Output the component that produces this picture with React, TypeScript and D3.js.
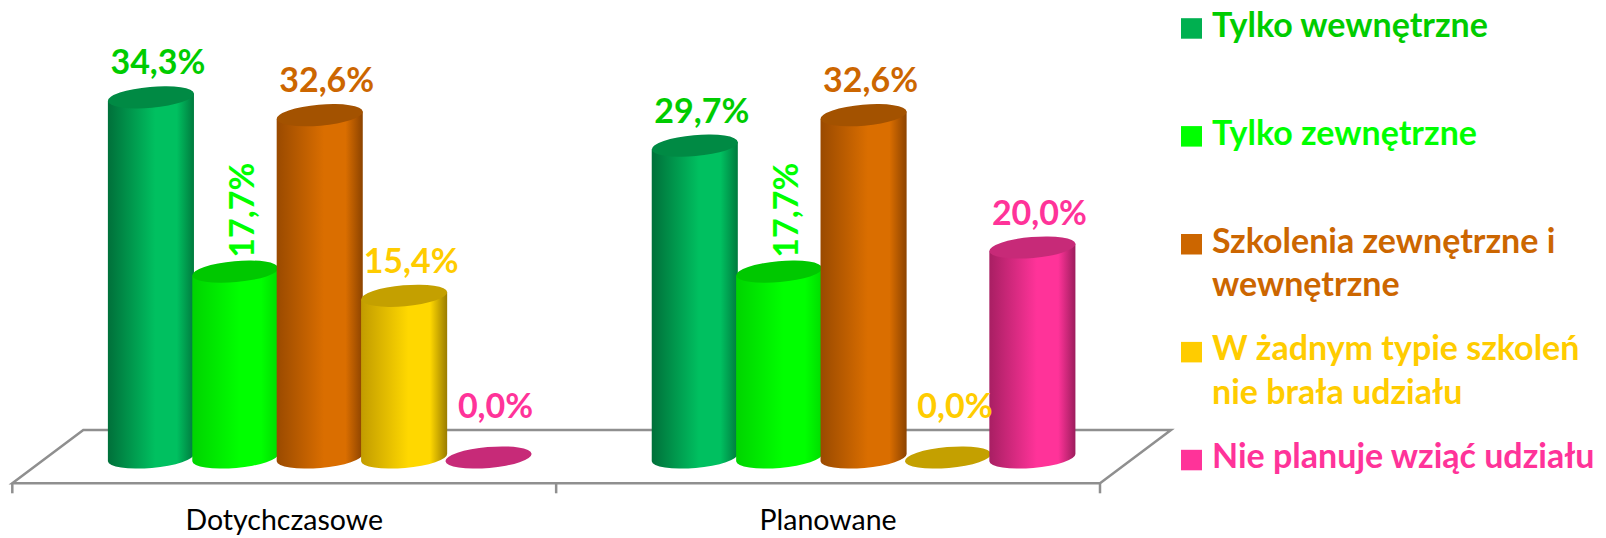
import React from "react";
import * as d3 from "d3";

const categories = ["Dotychczasowe", "Planowane"];
const seriesNames = [
  "Tylko wewnętrzne",
  "Tylko zewnętrzne",
  "Szkolenia zewnętrzne i wewnętrzne",
  "W żadnym typie szkoleń nie brała udziału",
  "Nie planuje wziąć udziału",
];
const valuesDotychczasowe = [34.3, 17.7, 32.6, 15.4, 0.0];
const valuesPlanowane = [29.7, 17.7, 32.6, 0.0, 20.0];
const legendLines = [
  ["Tylko wewnętrzne"],
  ["Tylko zewnętrzne"],
  ["Szkolenia zewnętrzne i", "wewnętrzne"],
  ["W żadnym typie szkoleń", "nie brała udziału"],
  ["Nie planuje wziąć udziału"],
];
const rotatedLabelSeries = [1];

const bodyEdgeL = ["#00703a", "#00d400", "#9a4a00", "#c29c00", "#a81f63"];
const bodyMid = ["#00c060", "#00ff00", "#da6e00", "#ffd800", "#ff3399"];
const bodyEdgeR = ["#007a3e", "#00dc00", "#8c4300", "#9a7c00", "#9c1d5c"];
const capColors = ["#008a44", "#00c800", "#a35200", "#c4a000", "#c72a78"];
const labelColors = ["#00cc00", "#00ff00", "#cc6600", "#ffcc00", "#ff3399"];
const markerColors = ["#00b050", "#00ff00", "#cc6600", "#ffcc00", "#ff3399"];

const W = 1606;
const H = 538;
const FONT = "Lato, 'Open Sans', sans-serif";

const fmt = (v: number) => v.toFixed(1).replace(".", ",") + "%";

export default function App() {
  const data = [valuesDotychczasowe, valuesPlanowane];

  const frontY = 483.3;
  const depthDx = 71;
  const depthDy = -53.3;
  const xBand = d3.scaleBand<string>().domain(categories).range([12.3, 1100]);
  const xSeries = d3.scaleBand<string>().domain(seriesNames).range([-211, 211]);
  const y = d3.scaleLinear().domain([0, 40]).range([457.5, 37.5]);

  const x0 = xBand.range()[0];
  const x1 = xBand.range()[1];
  const floorPts = [
    [x0, frontY],
    [x1, frontY],
    [x1 + depthDx, frontY + depthDy],
    [x0 + depthDx, frontY + depthDy],
  ];
  const floorPath = d3.line()(floorPts as [number, number][]) + "Z";

  const rx = xSeries.bandwidth() / 2 + 1;
  const ry = 10.5;
  const tilt = -5;
  const tr = (tilt * Math.PI) / 180;
  const ex = rx * Math.cos(tr);
  const ey = rx * Math.sin(tr);

  const bars: any[] = [];
  categories.forEach((c, ci) => {
    const gc = (xBand(c) as number) + xBand.bandwidth() / 2 + depthDx / 2;
    seriesNames.forEach((s, si) => {
      const v = data[ci][si];
      const cx = gc + (xSeries(s) as number) + xSeries.bandwidth() / 2;
      bars.push({ ci, si, v, cx, yTop: y(v), yBot: y(0) });
    });
  });

  const legendX = 1181;
  const legendBase0 = 36.7;
  const legendStep = 107.9;
  const legendLineH = 43.4;

  return (
    <svg
      width={W}
      height={H}
      viewBox={`0 0 ${W} ${H}`}
      style={{ position: "absolute", left: 0, top: 0, display: "block", background: "#fff" }}
    >
      <defs>
        {seriesNames.map((s, i) => (
          <linearGradient key={i} id={`g${i}`} x1="0" x2="1" y1="0" y2="0">
            <stop offset="0" stopColor={bodyEdgeL[i]} />
            <stop offset="0.55" stopColor={bodyMid[i]} />
            <stop offset="0.8" stopColor={bodyMid[i]} />
            <stop offset="1" stopColor={bodyEdgeR[i]} />
          </linearGradient>
        ))}
      </defs>

      {/* floor */}
      <path d={floorPath} fill="none" stroke="#8f8f8f" strokeWidth={2.5} strokeLinejoin="miter" />
      {[x0, (xBand(categories[1]) as number), x1].map((tx, i) => (
        <line key={i} x1={tx} x2={tx} y1={frontY} y2={frontY + 10} stroke="#8f8f8f" strokeWidth={2.5} />
      ))}

      {/* bars */}
      {bars.map((b, i) => {
        if (b.v === 0) {
          return (
            <ellipse
              key={i}
              cx={b.cx}
              cy={b.yBot}
              rx={rx}
              ry={ry}
              fill={capColors[b.si]}
              transform={`rotate(${tilt} ${b.cx} ${b.yBot})`}
            />
          );
        }
        const d =
          `M${b.cx - ex},${b.yTop - ey} L${b.cx - ex},${b.yBot - ey} ` +
          `A${rx},${ry} ${tilt} 0 0 ${b.cx + ex},${b.yBot + ey} ` +
          `L${b.cx + ex},${b.yTop + ey} Z`;
        return (
          <g key={i}>
            <path d={d} fill={`url(#g${b.si})`} />
            <ellipse
              cx={b.cx}
              cy={b.yTop}
              rx={rx}
              ry={ry}
              fill={capColors[b.si]}
              transform={`rotate(${tilt} ${b.cx} ${b.yTop})`}
            />
          </g>
        );
      })}

      {/* value labels */}
      {bars.map((b, i) => {
        const common = {
          fill: labelColors[b.si],
          fontFamily: FONT,
          fontWeight: 700,
          fontSize: 34,
        } as any;
        if (rotatedLabelSeries.includes(b.si)) {
          const lx = b.cx + 19;
          const ly = b.yTop - 14;
          return (
            <text key={i} {...common} x={lx} y={ly} textAnchor="start" transform={`rotate(-90 ${lx} ${ly})`}>
              {fmt(b.v)}
            </text>
          );
        }
        const ly = b.v === 0 ? b.yBot - 40 : b.yTop - 23;
        return (
          <text key={i} {...common} x={b.cx + 7} y={ly} textAnchor="middle">
            {fmt(b.v)}
          </text>
        );
      })}

      {/* category labels */}
      {categories.map((c) => (
        <text
          key={c}
          x={(xBand(c) as number) + xBand.bandwidth() / 2}
          y={530}
          textAnchor="middle"
          fontFamily={FONT}
          fontSize={28.5}
          fill="#000"
        >
          {c}
        </text>
      ))}

      {/* legend */}
      {legendLines.map((lines, i) => {
        const base = legendBase0 + i * legendStep;
        return (
          <g key={i}>
            <rect x={legendX} y={base - 18.5} width={21} height={20.5} fill={markerColors[i]} />
            {lines.map((ln, li) => (
              <text
                key={li}
                x={legendX + 31}
                y={base + li * legendLineH}
                fontFamily={FONT}
                fontWeight={700}
                fontSize={34}
                fill={labelColors[i]}
              >
                {ln}
              </text>
            ))}
          </g>
        );
      })}
    </svg>
  );
}
